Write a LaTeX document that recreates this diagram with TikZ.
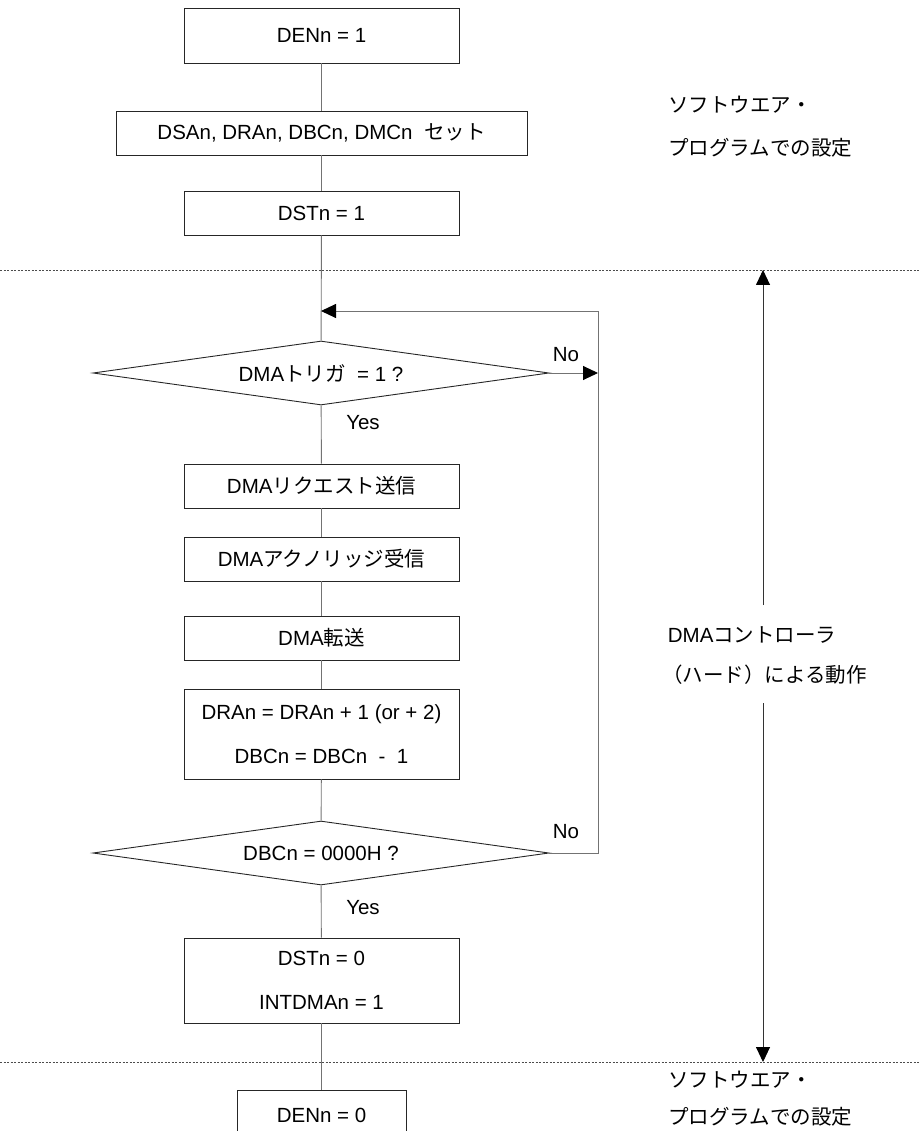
\documentclass[tikz,border=0pt]{standalone}
\usepackage{fontspec}
\setmainfont{Liberation Sans}
\newfontfamily\jp{Noto Sans CJK JP}
\usetikzlibrary{arrows.meta,shapes.geometric}
\tikzset{
  box/.style={draw=black!85, line width=0.9pt, minimum width=275pt, minimum height=44pt, inner sep=0pt, align=center},
  dec/.style={diamond, draw=black!85, line width=0.9pt, minimum width=456pt, minimum height=64pt, inner sep=0pt, aspect=7},
  conn/.style={draw=black!55, line width=0.9pt},
  tip/.style={-{Triangle[length=15pt,width=14pt,black]}},
  sep/.style={draw=black!70, line width=0.7pt, dash pattern=on 2pt off 1.5pt},
  lbl/.style={inner sep=0pt, align=left},
}
\begin{document}
\begin{tikzpicture}[x=1pt,y=-1pt,font=\fontsize{20.5}{44}\selectfont]
\useasboundingbox (0,0) rectangle (920,1131);
\clip (0,0) rectangle (920,1131);
% separators
\draw[sep] (0,270) -- (920,270);
\draw[sep] (0,1062) -- (920,1062);
% nodes
\node[box, minimum height=55pt] (b1) at (321.5,35.5) {DENn = 1};
\node[box, minimum width=411pt] (b2) at (321.5,133) {DSAn, DRAn, DBCn, DMCn\ \ {\jp セット}};
\node[box] (b3) at (321.5,213) {DSTn = 1};
\node[dec] (d1) at (321,373) {DMA{\jp トリガ}\ \ = 1 ?};
\node[box] (b4) at (321.5,486) {DMA{\jp リクエスト送信}};
\node[box] (b5) at (321.5,559) {DMA{\jp アクノリッジ受信}};
\node[box] (b6) at (321.5,638) {DMA{\jp 転送}};
\node[box, minimum height=90pt] (b7) at (321.5,734) {DRAn = DRAn + 1 (or + 2)\\DBCn = DBCn\ \ -\ \ 1};
\node[dec] (d2) at (321,853) {DBCn = 0000H ?};
\node[box, minimum height=85pt] (b8) at (321.5,980.5) {DSTn = 0\\INTDMAn = 1};
\node[box, minimum width=169pt, minimum height=50pt] (b9) at (321.5,1115) {DENn = 0};
% coordinates
\coordinate (merge) at (321,311);
\coordinate (loopTR) at (598,311);
\coordinate (n1) at (598,373);
\coordinate (atop) at (763,270);
\coordinate (abrk1) at (763,605);
\coordinate (abrk2) at (763,703);
\coordinate (abot) at (763,1062);
% connectors
\draw[conn] (b1) -- (b2);
\draw[conn] (b2) -- (b3);
\draw[conn] (b3) -- (d1);
\draw[conn] (d1) -- (b4);
\draw[conn] (b4) -- (b5);
\draw[conn] (b5) -- (b6);
\draw[conn] (b6) -- (b7);
\draw[conn] (b7) -- (d2);
\draw[conn] (d2) -- (b8);
\draw[conn] (b8) -- (b9);
\draw[conn, tip] (d1.east) -- (n1);
\draw[conn] (d2.east) -| (loopTR);
\draw[conn, tip] (loopTR) -- (merge);
\draw[conn, draw=black!80, tip] (abrk1) -- (atop);
\draw[conn, draw=black!80, tip] (abrk2) -- (abot);
% labels
\node[lbl] (no1) at (566,355) {No};
\node[lbl] (no2) at (566,832) {No};
\node[lbl] (yes1) at (363,423) {Yes};
\node[lbl] (yes2) at (363,908) {Yes};
\node[lbl, anchor=west] (sw1) at (668,126.5) {{\jp ソフトウエア・}\\[-1pt]{\jp プログラムでの設定}};
\node[lbl, anchor=west] (ctl) at (662,656) {\ DMA{\jp コントローラ}\\[-4pt]{\jp （ハード）による動作}};
\node[lbl, anchor=west] (sw2a) at (668,1080) {\jp ソフトウエア・};
\node[lbl, anchor=west] (sw2b) at (668,1117) {\jp プログラムでの設定};
\end{tikzpicture}
\end{document}
